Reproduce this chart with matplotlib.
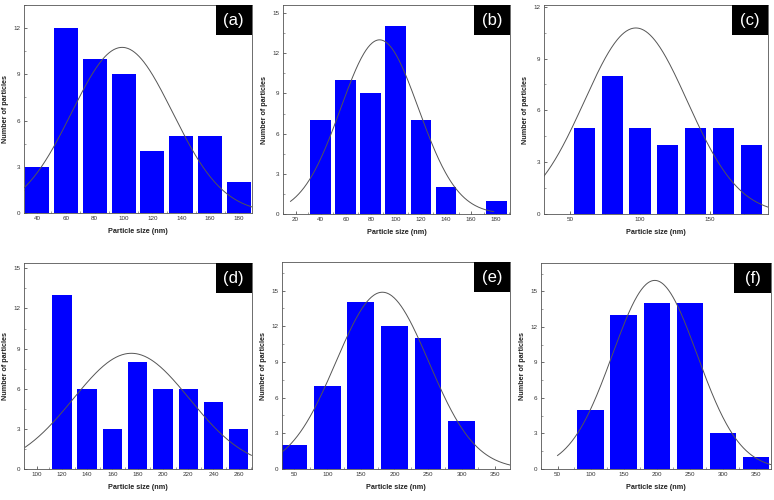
import numpy as np
import matplotlib
matplotlib.use("Agg")
import matplotlib.pyplot as plt
from matplotlib.patches import Rectangle
from matplotlib.ticker import AutoMinorLocator

plt.rcParams['font.family'] = ['Liberation Sans', 'DejaVu Sans']

# bar centres (nm) and counts for each panel
a_size = [40, 60, 80, 100, 120, 140, 160, 180]
a_count = [3, 12, 10, 9, 4, 5, 5, 2]
b_size = [40, 60, 80, 100, 120, 140, 180]
b_count = [7, 10, 9, 14, 7, 2, 1]
c_size = [60, 80, 100, 120, 140, 160, 180]
c_count = [5, 8, 5, 4, 5, 5, 4]
d_size = [120, 140, 160, 180, 200, 220, 240, 260]
d_count = [13, 6, 3, 8, 6, 6, 5, 3]
e_size = [50, 100, 150, 200, 250, 300]
e_count = [2, 7, 14, 12, 11, 4]
f_size = [100, 150, 200, 250, 300, 350]
f_count = [5, 13, 14, 14, 3, 1]

# gaussian fit: centre, sigma, height, x from, x to
a_fit = [99, 35, 10.75, 31, 189]
b_fit = [87, 31, 13.0, 16, 178]
c_fit = [97, 37, 10.77, 31, 192]
d_fit = [175, 46, 8.65, 91, 270]
e_fit = [182, 69, 14.86, 33, 372]
f_fit = [197, 64, 15.93, 50, 372]

labels = ['(a)', '(b)', '(c)', '(d)', '(e)', '(f)']

panels = [
    (a_size, a_count, a_fit, 16.6, (31, 189), (0, 13.5), [40, 60, 80, 100, 120, 140, 160, 180], [0, 3, 6, 9, 12]),
    (b_size, b_count, b_fit, 16.6, (10, 191), (0, 15.6), [20, 40, 60, 80, 100, 120, 140, 160, 180], [0, 3, 6, 9, 12, 15]),
    (c_size, c_count, c_fit, 15.2, (31, 192), (0, 12.1), [50, 100, 150], [0, 3, 6, 9, 12]),
    (d_size, d_count, d_fit, 15.3, (90, 270.5), (0, 15.4), [100, 120, 140, 160, 180, 200, 220, 240, 260], [0, 3, 6, 9, 12, 15]),
    (e_size, e_count, e_fit, 40, (32.6, 372), (0, 17.4), [50, 100, 150, 200, 250, 300, 350], [0, 3, 6, 9, 12, 15]),
    (f_size, f_count, f_fit, 40, (25, 372.7), (0, 17.4), [50, 100, 150, 200, 250, 300, 350], [0, 3, 6, 9, 12, 15]),
]

# axes boxes in pixels: left, right, top, bottom
boxes = [
    (24, 252, 5, 213), (283, 510, 5, 214), (544, 768, 5, 214),
    (24, 252, 263, 469), (282, 510, 262, 469), (541, 771, 263, 469),
]

W, H = 774, 500
fig = plt.figure(figsize=(W / 100, H / 100), dpi=100)

for (size, count, fit, width, xlim, ylim, xt, yt), (l, r, t, b), lab in zip(panels, boxes, labels):
    ax = fig.add_axes([l / W, 1 - b / H, (r - l) / W, (b - t) / H])
    ax.bar(size, count, width=width, color='#0000ff', edgecolor='none', zorder=2)
    mu, sig, amp, x0, x1 = fit
    xs = np.linspace(x0, x1, 300)
    ax.plot(xs, amp * np.exp(-(xs - mu) ** 2 / (2 * sig ** 2)), color='#555555', lw=0.7, zorder=3)
    ax.set_xlim(*xlim)
    ax.set_ylim(*ylim)
    ax.set_xticks(xt)
    ax.set_yticks(yt)
    ax.xaxis.set_minor_locator(AutoMinorLocator(2))
    ax.yaxis.set_minor_locator(AutoMinorLocator(2))
    ax.tick_params(which='major', direction='in', length=2.2, width=0.5, labelsize=4.5, pad=2.5, colors='#333333')
    ax.tick_params(which='minor', direction='in', length=1.3, width=0.4, colors='#555555')
    for s in ax.spines.values():
        s.set_linewidth(0.6)
        s.set_color('#555555')
    ax.set_xlabel('Particle size (nm)', fontsize=5.2, fontweight='bold', labelpad=5, color='#222222')
    ax.set_ylabel('Number of particles', fontsize=5.2, fontweight='bold', labelpad=3, color='#222222')
    ax.add_patch(Rectangle((0.84, 0.855), 0.16, 0.145, transform=ax.transAxes,
                           facecolor='black', edgecolor='none', zorder=5, clip_on=False))
    ax.text(0.92, 0.927, lab, transform=ax.transAxes, ha='center', va='center',
            color='white', fontsize=12, zorder=6)

fig.savefig('out.png', dpi=100)
